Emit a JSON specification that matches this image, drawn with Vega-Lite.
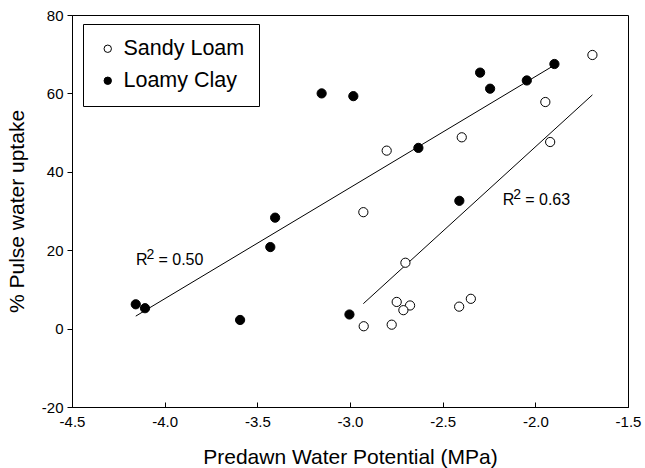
{
  "$schema": "https://vega.github.io/schema/vega-lite/v6.json",
  "width": 556,
  "height": 392,
  "autosize": {"type": "none"},
  "padding": {"left": 72, "top": 15, "right": 17, "bottom": 61},
  "config": {
    "font": "Liberation Sans",
    "view": {"stroke": "black", "strokeWidth": 1},
    "axis": {
      "grid": false,
      "domainColor": "black",
      "tickColor": "black",
      "labelColor": "black",
      "titleColor": "black",
      "labelFont": "Liberation Sans",
      "titleFont": "Liberation Sans",
      "labelFontSize": 15,
      "titleFontSize": 21,
      "titleFontWeight": "normal"
    }
  },
  "datasets": {
    "pts": [
      {"soil": "Sandy Loam", "potential": -1.692, "uptake": 69.8},
      {"soil": "Sandy Loam", "potential": -1.946, "uptake": 57.8},
      {"soil": "Sandy Loam", "potential": -1.920, "uptake": 47.6},
      {"soil": "Sandy Loam", "potential": -2.397, "uptake": 48.8},
      {"soil": "Sandy Loam", "potential": -2.802, "uptake": 45.4},
      {"soil": "Sandy Loam", "potential": -2.928, "uptake": 29.7},
      {"soil": "Sandy Loam", "potential": -2.701, "uptake": 16.8},
      {"soil": "Sandy Loam", "potential": -2.748, "uptake": 6.8},
      {"soil": "Sandy Loam", "potential": -2.676, "uptake": 5.9},
      {"soil": "Sandy Loam", "potential": -2.712, "uptake": 4.7},
      {"soil": "Sandy Loam", "potential": -2.775, "uptake": 1.0},
      {"soil": "Sandy Loam", "potential": -2.926, "uptake": 0.6},
      {"soil": "Sandy Loam", "potential": -2.411, "uptake": 5.6},
      {"soil": "Sandy Loam", "potential": -2.348, "uptake": 7.6},
      {"soil": "Loamy Clay", "potential": -3.153, "uptake": 60.0},
      {"soil": "Loamy Clay", "potential": -2.982, "uptake": 59.3},
      {"soil": "Loamy Clay", "potential": -1.897, "uptake": 67.5},
      {"soil": "Loamy Clay", "potential": -2.298, "uptake": 65.3},
      {"soil": "Loamy Clay", "potential": -2.244, "uptake": 61.2},
      {"soil": "Loamy Clay", "potential": -2.046, "uptake": 63.3},
      {"soil": "Loamy Clay", "potential": -2.631, "uptake": 46.1},
      {"soil": "Loamy Clay", "potential": -2.410, "uptake": 32.6},
      {"soil": "Loamy Clay", "potential": -3.404, "uptake": 28.3},
      {"soil": "Loamy Clay", "potential": -3.430, "uptake": 20.8},
      {"soil": "Loamy Clay", "potential": -4.156, "uptake": 6.2},
      {"soil": "Loamy Clay", "potential": -4.106, "uptake": 5.2},
      {"soil": "Loamy Clay", "potential": -3.593, "uptake": 2.2},
      {"soil": "Loamy Clay", "potential": -3.003, "uptake": 3.6}
    ],
    "notes": [
      {"r": "R", "sup": "2", "eq": "= 0.50", "potential": -4.155, "uptake": 16.2},
      {"r": "R", "sup": "2", "eq": "= 0.63", "potential": -2.176, "uptake": 31.5}
    ]
  },
  "encoding": {
    "x": {
      "field": "potential",
      "type": "quantitative",
      "scale": {"domain": [-4.5, -1.5], "nice": false, "zero": false},
      "axis": {
        "title": "Predawn Water Potential (MPa)",
        "values": [-4.5, -4.0, -3.5, -3.0, -2.5, -2.0, -1.5],
        "format": ".1f",
        "labelExpr": "replace(datum.label, '\u2212', '-')",
        "tickSize": -5,
        "labelPadding": 12,
        "titleX": 278,
        "titleY": 50,
        "titleAlign": "center",
        "titleBaseline": "middle",
        "labelFlush": false,
        "labelOverlap": false
      }
    },
    "y": {
      "field": "uptake",
      "type": "quantitative",
      "scale": {"domain": [-20, 80], "nice": false, "zero": false},
      "axis": {
        "title": "% Pulse water uptake",
        "values": [-20, 0, 20, 40, 60, 80],
        "labelExpr": "replace(datum.label, '\u2212', '-')",
        "tickSize": 5,
        "labelPadding": 4,
        "titleX": -55,
        "titleY": 196,
        "titleAngle": -90,
        "titleAlign": "center",
        "titleBaseline": "middle",
        "labelFlush": false,
        "labelOverlap": false
      }
    }
  },
  "layer": [
    {
      "data": {"name": "pts"},
      "transform": [{"regression": "uptake", "on": "potential", "groupby": ["soil"]}],
      "mark": {"type": "line", "color": "black", "strokeWidth": 1},
      "encoding": {"detail": {"field": "soil", "type": "nominal"}}
    },
    {
      "data": {"name": "notes"},
      "mark": {"type": "text", "align": "left", "baseline": "alphabetic", "fontSize": 16, "color": "black", "font": "Liberation Sans"},
      "encoding": {"text": {"field": "r", "type": "nominal"}}
    },
    {
      "data": {"name": "notes"},
      "mark": {"type": "text", "align": "left", "baseline": "alphabetic", "fontSize": 14, "dx": 10.5, "dy": -6.5, "color": "black", "font": "Liberation Sans"},
      "encoding": {"text": {"field": "sup", "type": "nominal"}}
    },
    {
      "data": {"name": "notes"},
      "mark": {"type": "text", "align": "left", "baseline": "alphabetic", "fontSize": 16, "dx": 22.5, "color": "black", "font": "Liberation Sans"},
      "encoding": {"text": {"field": "eq", "type": "nominal"}}
    },
    {
      "data": {"name": "pts"},
      "mark": {"type": "point", "filled": true, "size": 85, "stroke": "black", "strokeWidth": 1, "opacity": 1, "shape": "circle"},
      "encoding": {
        "fill": {
          "field": "soil",
          "type": "nominal",
          "scale": {"domain": ["Sandy Loam", "Loamy Clay"], "range": ["white", "black"]},
          "legend": {
            "orient": "none",
            "legendX": 11,
            "legendY": 9,
            "title": null,
            "strokeColor": "black",
            "fillColor": "white",
            "padding": 14,
            "labelFontSize": 21.5,
            "labelFont": "Liberation Sans",
            "labelColor": "black",
            "symbolType": "circle",
            "symbolSize": 55,
            "symbolStrokeColor": "black",
            "symbolStrokeWidth": 1,
            "rowPadding": 9,
            "labelOffset": 5,
            "symbolOffset": 0
          }
        }
      }
    }
  ]
}
